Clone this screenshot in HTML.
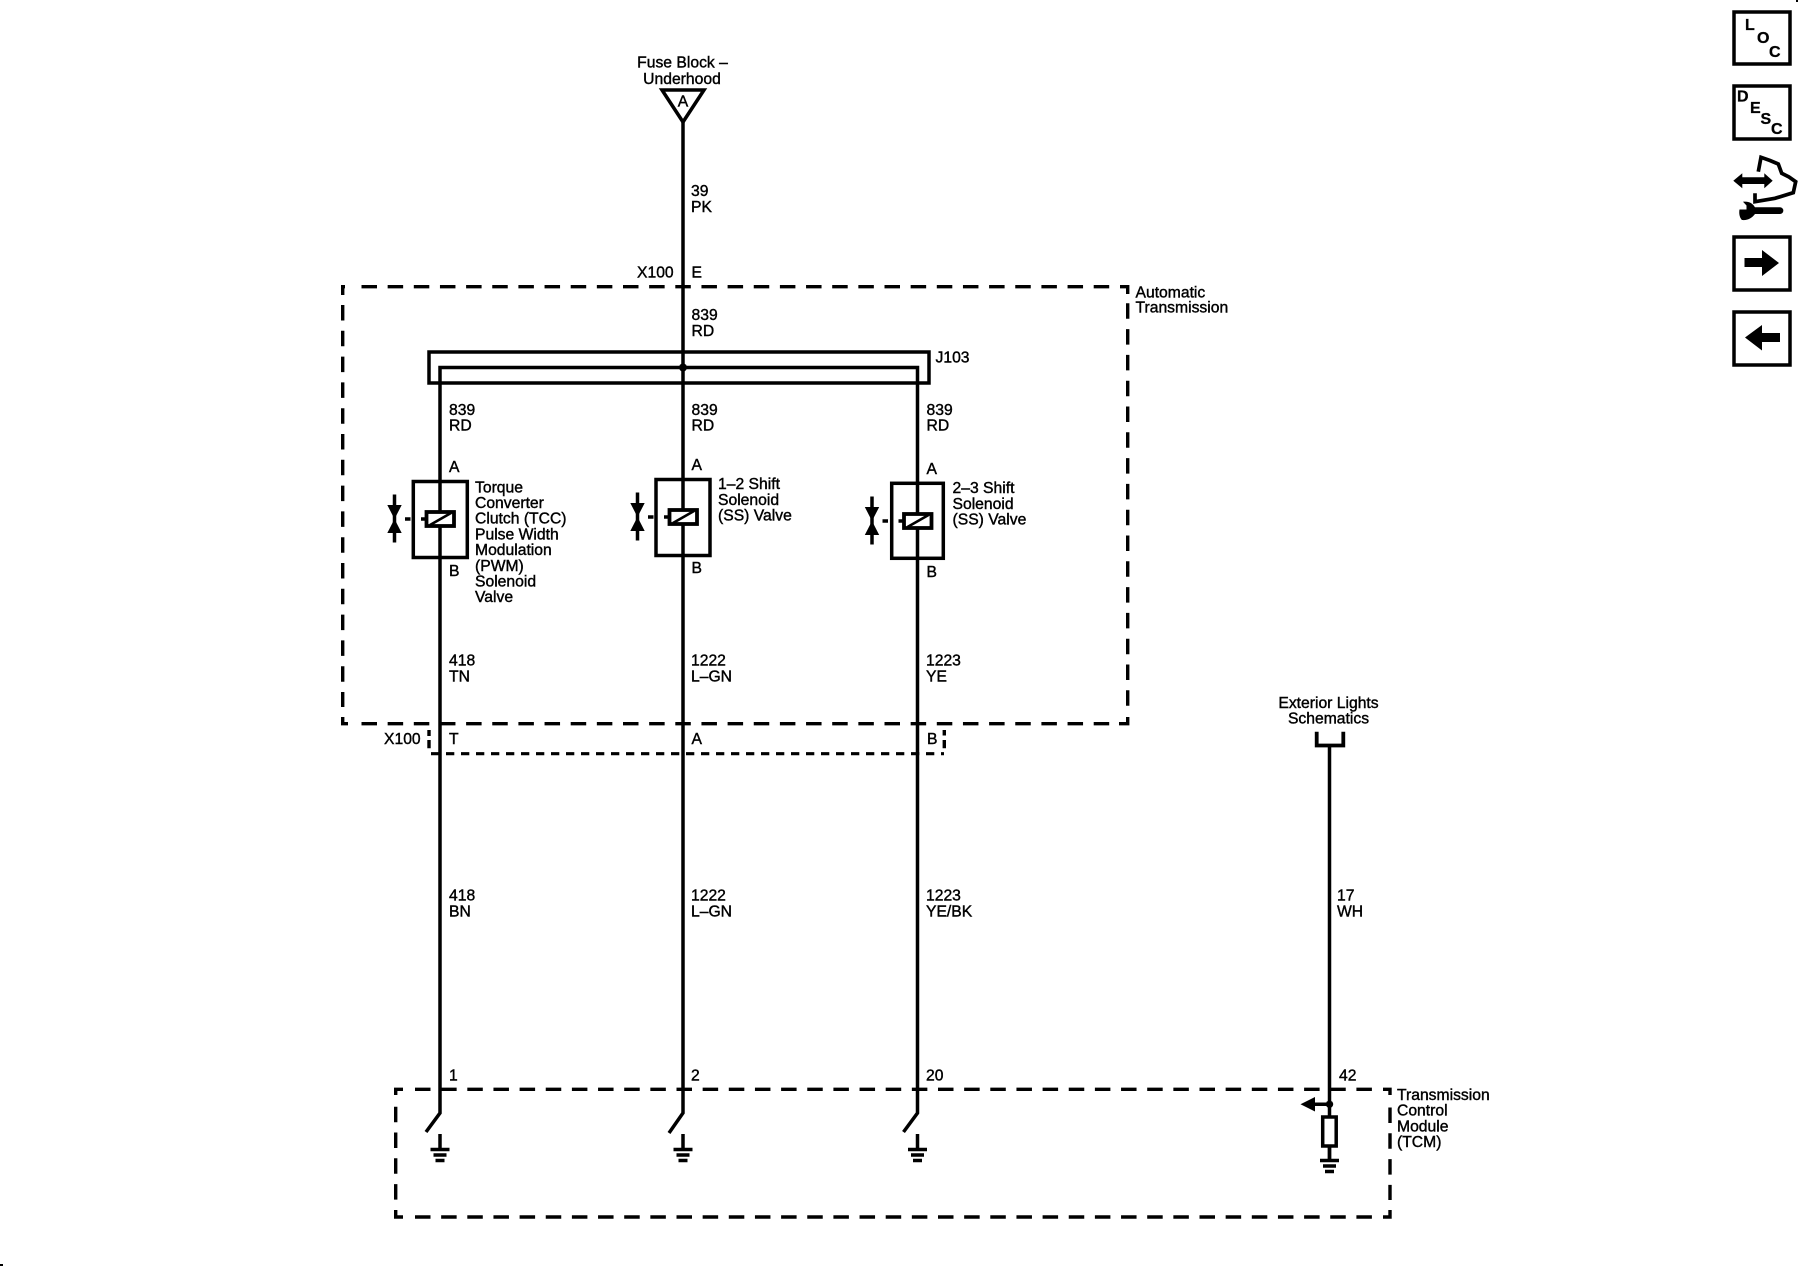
<!DOCTYPE html>
<html><head><meta charset="utf-8"><style>
html,body{margin:0;padding:0;background:#fff}
svg{display:block}
text{font-family:"Liberation Sans",sans-serif;font-size:15.7px;fill:#000;stroke:#000;stroke-width:.4px}
.b{font-weight:bold;font-size:16px;stroke-width:.3px}
.l{fill:none;stroke:#000;stroke-width:3.5}
.w{fill:#fff;stroke:#000;stroke-width:3.5}
.k{fill:#000;stroke:none}
.h{fill:none;stroke:#000;stroke-width:3.4;stroke-dasharray:15.5 10.65}
.v{fill:none;stroke:#000;stroke-width:3.4;stroke-dasharray:15.5 10.3}
.c{fill:none;stroke:#000;stroke-width:3.4}
.s{fill:none;stroke:#000;stroke-width:3.2;stroke-dasharray:8.300 6.700}
</style></head><body>
<svg width="1800" height="1280" viewBox="0 0 1800 1280" xmlns="http://www.w3.org/2000/svg">
<defs>
<g id="sym">
<rect class="w" x="-13.500" y="30.500" width="27.500" height="14" style="stroke-width:3.8"/>
<line class="l" x1="-10" y1="43.500" x2="11" y2="31.500" style="stroke-width:2.6"/>
<line class="l" x1="-35" y1="37.500" x2="-29.500" y2="37.500"/>
<line class="l" x1="-19" y1="37.500" x2="-15" y2="37.500"/>
<line class="l" x1="-45.500" y1="13" x2="-45.500" y2="61"/>
<path class="k" d="M-52.700 23.500H-38.300L-45.500 37.500ZM-52.700 51.500H-38.300L-45.500 37.500Z"/>
</g>
<g id="gnd">
<line class="l" x1="0" y1="0" x2="0" y2="15"/>
<line class="l" x1="-9.500" y1="15.500" x2="9.500" y2="15.500"/>
<line class="l" x1="-6.500" y1="21" x2="6.500" y2="21"/>
<line class="l" x1="-4.500" y1="26.500" x2="4.500" y2="26.500"/>
</g>
</defs>

<!-- Automatic Transmission enclosure -->
<path class="h" d="M361.500 286.700H1110"/>
<path class="h" d="M361.500 723.700H1111"/>
<path class="v" d="M342.700 305V707"/>
<path class="v" d="M1127.700 303.300V707"/>
<path class="c" d="M345 286.700H342.700V295"/>
<path class="c" d="M1120 286.700H1127.700V294"/>
<path class="c" d="M348 723.700H342.700V717"/>
<path class="c" d="M1119 723.700H1127.700V717"/>

<!-- TCM enclosure -->
<path class="h" d="M415 1089.300H1372"/>
<path class="h" d="M415 1217H1372"/>
<path class="v" d="M395.700 1106.700V1200"/>
<path class="v" d="M1390 1107.500V1200"/>
<path class="c" d="M403 1089.300H395.700V1095"/>
<path class="c" d="M1383 1089.300H1390V1095"/>
<path class="c" d="M403 1217H395.700V1210"/>
<path class="c" d="M1383 1217H1390V1210"/>

<!-- X100 lower connector -->
<path class="s" d="M431 753.700H944"/>
<path class="c" d="M429 730V736M429 740V748.300M944.300 730V735.500M944.300 740V748.300"/>

<!-- J103 -->
<rect class="l" x="429" y="352" width="500" height="31"/>
<circle class="k" cx="683" cy="367.500" r="4"/>

<!-- wires -->
<path class="l" d="M683 121V1113L669 1133"/>
<path class="l" d="M426 1132L440 1113V367.500H917.500V1113L903.500 1132"/>
<path class="l" d="M1329.500 746V1159"/>

<!-- fuse triangle -->
<path class="w" d="M662 90H704L683 122Z"/>
<text x="683" y="106.500" text-anchor="middle">A</text>
<text x="682.500" y="67.500" text-anchor="middle">Fuse Block –</text>
<text x="682" y="84" text-anchor="middle">Underhood</text>

<!-- valves -->
<rect class="l" x="413.300" y="481.500" width="54" height="76"/>
<rect class="l" x="656" y="479.500" width="54" height="76"/>
<rect class="l" x="891.700" y="483.300" width="51.600" height="75"/>
<use href="#sym" x="440" y="481.500"/>
<use href="#sym" x="683" y="479.500"/>
<use href="#sym" x="917.500" y="483.500"/>

<!-- grounds -->
<use href="#gnd" x="440" y="1134"/>
<use href="#gnd" x="683" y="1134"/>
<use href="#gnd" x="917.500" y="1134"/>
<use href="#gnd" x="1329.500" y="1145"/>

<!-- TCM right input -->
<rect class="w" x="1322.700" y="1117" width="13.500" height="29"/>
<circle class="k" cx="1329.500" cy="1104.300" r="3.700"/>
<line class="l" x1="1329.500" y1="1104.300" x2="1312" y2="1104.300"/>
<path class="k" d="M1300.500 1104.300L1315 1097V1111.500Z"/>
<path class="l" d="M1316.700 731.700V745.500H1343.300V731.700" style="stroke-width:3.8"/>

<!-- wire labels -->
<text x="691" y="196">39</text><text x="691" y="212">PK</text>
<text x="637" y="277.500">X100</text><text x="691.500" y="277.500">E</text>
<text x="691.500" y="320">839</text><text x="691.500" y="336">RD</text>
<text x="935.500" y="362.500">J103</text>
<text x="1135.500" y="297.300">Automatic</text><text x="1135.500" y="312.500">Transmission</text>

<text x="449" y="415">839</text><text x="449" y="430.500">RD</text>
<text x="691.500" y="415">839</text><text x="691.500" y="430.500">RD</text>
<text x="926.500" y="415">839</text><text x="926.500" y="430.500">RD</text>

<text x="449" y="472">A</text><text x="449" y="576">B</text>
<text x="691.500" y="470">A</text><text x="691.500" y="573">B</text>
<text x="926.500" y="474">A</text><text x="926.500" y="577">B</text>

<text x="475" y="492.300">Torque</text>
<text x="475" y="508">Converter</text>
<text x="475" y="523.700">Clutch (TCC)</text>
<text x="475" y="539.400">Pulse Width</text>
<text x="475" y="555.100">Modulation</text>
<text x="475" y="570.800">(PWM)</text>
<text x="475" y="586.500">Solenoid</text>
<text x="475" y="602.200">Valve</text>

<text x="718" y="489">1–2 Shift</text>
<text x="718" y="505">Solenoid</text>
<text x="718" y="520.500">(SS) Valve</text>

<text x="952.500" y="493">2–3 Shift</text>
<text x="952.500" y="509">Solenoid</text>
<text x="952.500" y="524.500">(SS) Valve</text>

<text x="449" y="665.500">418</text><text x="449" y="681.500">TN</text>
<text x="691" y="665.500">1222</text><text x="691" y="681.500">L–GN</text>
<text x="926" y="665.500">1223</text><text x="926" y="681.500">YE</text>

<text x="384" y="744">X100</text>
<text x="449" y="744">T</text><text x="691.500" y="744">A</text><text x="927" y="744">B</text>

<text x="449" y="900.500">418</text><text x="449" y="916.500">BN</text>
<text x="691" y="900.500">1222</text><text x="691" y="916.500">L–GN</text>
<text x="926" y="900.500">1223</text><text x="926" y="916.500">YE/BK</text>
<text x="1337" y="900.500">17</text><text x="1337" y="916.500">WH</text>

<text x="1328.500" y="708" text-anchor="middle">Exterior Lights</text>
<text x="1328.500" y="723.500" text-anchor="middle">Schematics</text>

<text x="449" y="1080.500">1</text><text x="691" y="1080.500">2</text><text x="926" y="1080.500">20</text><text x="1339" y="1080.500">42</text>

<text x="1397" y="1100">Transmission</text>
<text x="1397" y="1115.700">Control</text>
<text x="1397" y="1131.400">Module</text>
<text x="1397" y="1147">(TCM)</text>

<!-- right side icons -->
<rect class="l" x="1734" y="12" width="56" height="52"/>
<text class="b" x="1745" y="30">L</text><text class="b" x="1757" y="43">O</text><text class="b" x="1769" y="57">C</text>

<rect class="l" x="1734" y="86" width="56" height="53"/>
<text class="b" x="1737" y="101.500">D</text><text class="b" x="1750" y="113">E</text><text class="b" x="1760.500" y="124">S</text><text class="b" x="1771" y="134">C</text>

<path class="k" d="M1733.300 180.700L1742.300 173.200V177.300H1764.300V173.200L1772.700 180.700L1764.300 188.200V184H1742.300V188.200Z"/>
<path class="l" style="stroke-width:3.700" d="M1758.300 171.700L1761 157.300L1770 160.500L1778.300 164L1781.700 173.300L1789 177L1795.700 181.700L1793.300 192.700L1775 198.300L1755 201.700L1755 193.300"/>
<path class="k" d="M1743 201.700C1750 201 1753 204 1755 207.300H1780A3.350 3.350 0 0 1 1780 214H1755C1752 218 1748 220.500 1742 220C1739 217 1739 212 1739.500 209.500H1746.500V205.500Z"/>

<rect class="l" x="1734" y="237" width="56" height="53"/>
<path class="k" d="M1744.500 258H1762V250L1779 263L1762 276V267H1744.500Z"/>

<rect class="l" x="1734" y="312" width="56" height="53"/>
<path class="k" d="M1745 337.500L1762 325V333H1780V342H1762V350.500Z"/>

<rect class="k" x="1796" y="0" width="2" height="2"/>
<rect class="k" x="0" y="1264" width="3" height="2"/>
</svg>
</body></html>
